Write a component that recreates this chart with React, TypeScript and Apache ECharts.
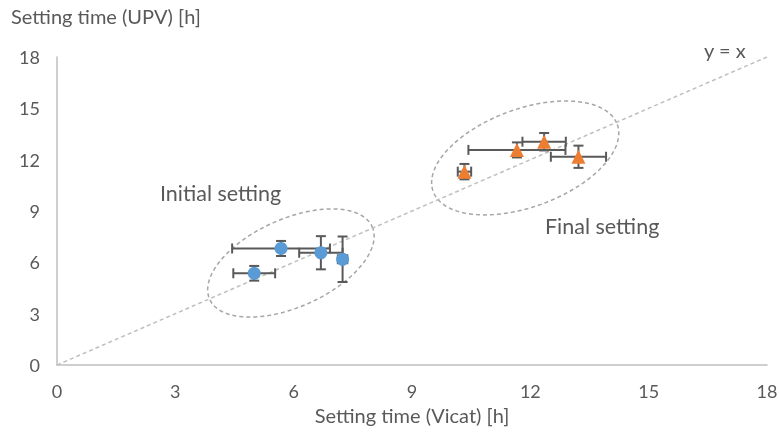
import React, { useEffect, useRef } from "react";
import * as echarts from "echarts";

// Setting times: Vicat needle (x) against ultrasonic pulse velocity (y), in hours
const initialVicat = [5.68, 6.69, 7.24, 5.0];
const initialUpv = [6.81, 6.56, 6.18, 5.36];
const initialVicatErr = [1.24, 0.55, 0.12, 0.53];
const initialUpvErr = [0.44, 0.97, 1.33, 0.43];

const finalVicat = [10.33, 11.66, 12.35, 13.22];
const finalUpv = [11.3, 12.57, 13.05, 12.17];
const finalVicatErr = [0.17, 1.23, 0.55, 0.7];
const finalUpvErr = [0.45, 0.44, 0.51, 0.65];

const axisMin = 0;
const axisMax = 18;
const axisStep = 3;

const xTitle = "Setting time (Vicat) [h]";
const yTitle = "Setting time (UPV) [h]";
const groupLabels = ["Initial setting", "Final setting"];
const identityLabel = "y = x";

// Dashed ellipses grouping each set: centre in data units, radii (px) and tilt
const groupCentres = [
  [5.93, 5.96],
  [11.87, 12.1],
];
const ellipseShape = [
  { a: 89, b: 44, tilt: 24 },
  { a: 98, b: 49, tilt: 20 },
];

const FONT = "Lato";
const TEXT = "#595959";

const zip = (xs: number[], ys: number[]) => xs.map((x, i) => [x, ys[i]]);
const zipErr = (xs: number[], ys: number[], ex: number[], ey: number[]) =>
  xs.map((x, i) => [x, ys[i], ex[i], ey[i]]);

function renderErrorBar(_params: any, api: any) {
  const x = api.value(0);
  const y = api.value(1);
  const ex = api.value(2);
  const ey = api.value(3);
  const l = api.coord([x - ex, y]);
  const r = api.coord([x + ex, y]);
  const t = api.coord([x, y + ey]);
  const b = api.coord([x, y - ey]);
  const cap = 5;
  const style = { stroke: "#595959", lineWidth: 2 };
  const seg = (x1: number, y1: number, x2: number, y2: number) => ({
    type: "line",
    shape: { x1, y1, x2, y2 },
    style,
  });
  return {
    type: "group",
    children: [
      seg(l[0], l[1], r[0], r[1]),
      seg(l[0], l[1] - cap, l[0], l[1] + cap),
      seg(r[0], r[1] - cap, r[0], r[1] + cap),
      seg(t[0], t[1], b[0], b[1]),
      seg(t[0] - cap, t[1], t[0] + cap, t[1]),
      seg(b[0] - cap, b[1], b[0] + cap, b[1]),
    ],
  };
}

function renderEllipse(params: any, api: any) {
  const c = api.coord([api.value(0), api.value(1)]);
  const { a, b, tilt } = ellipseShape[params.dataIndex];
  const th = (tilt * Math.PI) / 180;
  const pts: number[][] = [];
  const n = 120;
  for (let i = 0; i <= n; i++) {
    const t = (i / n) * Math.PI * 2;
    const ca = a * Math.cos(t);
    const sb = b * Math.sin(t);
    pts.push([
      c[0] + ca * Math.cos(th) + sb * Math.sin(th),
      c[1] - ca * Math.sin(th) + sb * Math.cos(th),
    ]);
  }
  return {
    type: "polyline",
    shape: { points: pts },
    style: { stroke: "#A6A6A6", lineWidth: 1.5, lineDash: [4, 3], fill: null },
  };
}

export default function App() {
  const ref = useRef<HTMLDivElement>(null);

  useEffect(() => {
    if (!ref.current) return;
    const chart = echarts.init(ref.current, null, { renderer: "svg" });

    const axisCommon = {
      type: "value",
      min: axisMin,
      max: axisMax,
      interval: axisStep,
      axisLine: { show: true, lineStyle: { color: "#BFBFBF", width: 1.5 } },
      axisTick: { show: false },
      splitLine: { show: false },
    };

    chart.setOption({
      animation: false,
      textStyle: { fontFamily: FONT },
      grid: {
        left: 57,
        right: 12,
        top: 57,
        bottom: 73,
        containLabel: false,
        outerBoundsMode: "none",
      },
      xAxis: {
        ...axisCommon,
        axisLabel: { color: TEXT, fontSize: 18, fontFamily: FONT, margin: 17 },
        name: xTitle,
        nameLocation: "middle",
        nameGap: 37,
        nameTextStyle: { color: TEXT, fontSize: 20, fontFamily: FONT },
      },
      yAxis: {
        ...axisCommon,
        axisLabel: { color: TEXT, fontSize: 18, fontFamily: FONT, margin: 17 },
      },
      graphic: [
        {
          type: "text",
          left: 11,
          top: 6,
          style: { text: yTitle, fill: TEXT, font: `20px ${FONT}` },
        },
        {
          type: "text",
          left: 160,
          top: 182,
          style: { text: groupLabels[0], fill: TEXT, font: `21.5px ${FONT}` },
        },
        {
          type: "text",
          left: 545,
          top: 215,
          style: { text: groupLabels[1], fill: TEXT, font: `21.5px ${FONT}` },
        },
        {
          type: "text",
          left: 704,
          top: 40,
          style: { text: identityLabel, fill: TEXT, font: `20px ${FONT}` },
        },
      ],
      series: [
        {
          type: "line",
          data: [
            [axisMin, axisMin],
            [axisMax, axisMax],
          ],
          symbol: "none",
          silent: true,
          z: 1,
          lineStyle: { color: "#BFBFBF", width: 1.5, type: [4, 3] },
        },
        {
          type: "custom",
          data: groupCentres,
          renderItem: renderEllipse,
          silent: true,
          z: 1,
          encode: { x: 0, y: 1 },
        },
        {
          type: "custom",
          data: zipErr(initialVicat, initialUpv, initialVicatErr, initialUpvErr),
          renderItem: renderErrorBar,
          z: 3,
          encode: { x: 0, y: 1 },
        },
        {
          type: "custom",
          data: zipErr(finalVicat, finalUpv, finalVicatErr, finalUpvErr),
          renderItem: renderErrorBar,
          z: 3,
          encode: { x: 0, y: 1 },
        },
        {
          type: "scatter",
          data: zip(initialVicat, initialUpv),
          symbol: "circle",
          symbolSize: 13,
          z: 4,
          itemStyle: { color: "#5B9BD5", opacity: 1 },
        },
        {
          type: "scatter",
          data: zip(finalVicat, finalUpv),
          symbol: "triangle",
          symbolSize: 14,
          z: 4,
          itemStyle: { color: "#ED7D31", opacity: 1 },
        },
      ],
    });

    return () => chart.dispose();
  }, []);

  return (
    <div
      ref={ref}
      style={{ position: "fixed", left: 0, top: 0, width: 779, height: 438 }}
    />
  );
}
